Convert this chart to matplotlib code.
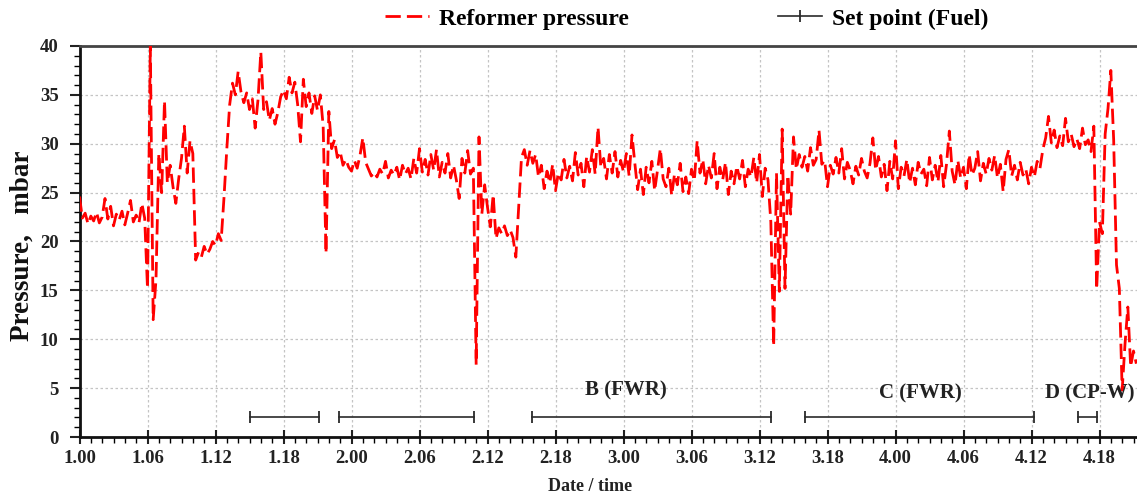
import numpy as np
import matplotlib
matplotlib.use("Agg")
import matplotlib.pyplot as plt
from matplotlib.ticker import MultipleLocator, FixedLocator

plt.rcParams['font.family'] = ['Liberation Serif', 'DejaVu Serif']
plt.rcParams['font.weight'] = 'bold'

# ---- data -------------------------------------------------------------
step_h = 0.25  # sampling interval of the pressure record, hours

pressure = [
    # 1.00 - 1.06
    24.6, 22.4, 22.9, 21.8, 22.6, 22.1, 23.0, 21.9, 22.5, 24.4, 22.3, 23.6,
    21.6, 22.8, 22.2, 23.1, 21.7, 22.9, 24.2, 22.0, 22.7, 21.9, 23.9, 22.4,
    # 1.06 - 1.12
    15.2, 40.0, 12.0, 16.1, 29.0, 25.0, 34.4, 26.0, 27.8, 25.6, 23.9, 26.4,
    28.5, 31.8, 27.0, 30.3, 29.0, 18.1, 18.9, 18.4, 19.5, 18.7, 19.2, 20.0,
    # 1.12 - 1.18
    19.6, 20.8, 20.1, 24.5, 29.5, 34.0, 36.2, 35.0, 37.4, 35.3, 34.2, 35.2,
    33.5, 34.6, 31.6, 34.5, 39.4, 33.5, 34.3, 32.4, 33.6, 32.0, 33.2, 34.8,
    # 1.18 - 2.00
    35.5, 34.6, 36.8, 35.2, 36.3, 34.0, 30.2, 36.6, 33.8, 35.2, 33.1, 34.9,
    33.4, 35.0, 31.8, 18.8, 33.3, 29.5, 30.4, 28.6, 29.2, 27.8, 28.4, 27.6,
    # 2.00 - 2.06
    27.2, 28.3, 27.5, 28.8, 30.6, 28.1, 27.4, 26.7, 27.1, 26.6, 27.4, 26.9,
    28.2, 26.5, 27.3, 26.8, 27.6, 26.3, 27.8, 26.9, 27.5, 26.4, 28.5, 27.0,
    # 2.06 - 2.12
    29.5, 27.1, 28.4, 26.8, 28.9, 27.3, 29.4, 26.6, 28.1, 27.0, 29.0, 26.5,
    27.8, 26.3, 24.4, 28.5, 27.0, 29.3, 26.9, 27.5, 7.4, 30.7, 22.8, 25.8,
    # 2.12 - 2.18
    23.5, 21.5, 24.8, 20.3, 21.4, 20.8, 21.6, 20.6, 21.2, 20.4, 18.4, 23.5,
    28.6, 29.4, 27.8, 29.3, 28.0, 28.9, 26.6, 27.8, 25.4, 27.2, 26.0, 27.9,
    # 2.18 - 3.00
    25.2, 27.0, 26.3, 28.4, 26.5, 27.7, 26.2, 29.1, 26.8, 28.0, 25.6, 28.7,
    27.1, 29.4, 26.9, 31.7, 27.6, 28.5, 26.4, 28.9, 27.0, 29.2, 26.6, 28.3,
    # 3.00 - 3.06
    27.1, 29.0, 26.7, 30.9, 28.0, 25.3, 27.4, 24.8, 27.6, 26.0, 28.2, 25.2,
    27.3, 29.5, 26.4, 25.6, 27.5, 24.7, 26.9, 25.8, 28.0, 25.1, 26.6, 24.9,
    # 3.06 - 3.12
    27.4, 26.2, 30.3, 27.0, 28.4, 25.9, 27.8, 26.5, 29.0, 25.4, 27.6, 26.3,
    28.1, 24.8, 27.2, 25.9, 27.7, 26.4, 28.3, 25.6, 27.4, 26.6, 28.6, 26.0,
    # 3.12 - 3.18
    28.9, 24.6, 27.5, 26.3, 22.0, 9.3, 27.0, 14.9, 31.5, 15.2, 26.8, 22.8,
    30.7, 27.4, 28.9, 27.6, 28.7, 27.2, 29.6, 27.8, 28.4, 31.4, 27.9, 28.3,
    # 3.18 - 4.00
    25.6, 27.8, 26.9, 28.6, 27.0, 29.5, 26.4, 28.1, 27.3, 25.9, 27.7, 26.8,
    28.5, 27.2, 26.5, 28.0, 30.6, 27.3, 28.7, 26.6, 27.9, 25.2, 28.2, 26.4,
    # 4.00 - 4.06
    30.3, 25.4, 27.6, 26.7, 28.4, 26.0, 27.5, 25.8, 28.1, 26.9, 27.4, 25.7,
    28.6, 26.3, 27.8, 26.1, 28.8, 25.6, 27.9, 31.3, 27.2, 25.8, 28.3, 26.5,
    # 4.06 - 4.12
    27.6, 25.4, 28.9, 26.8, 27.5, 29.2, 26.2, 28.0, 26.9, 28.5, 27.3, 28.8,
    26.5, 27.9, 25.1, 28.4, 29.4, 26.7, 27.8, 26.3, 28.1, 26.8, 27.4, 25.9,
    # 4.12 - 4.18
    27.6, 26.6, 28.2, 27.5, 29.4, 30.6, 32.8, 30.1, 31.4, 29.6, 30.8, 29.8,
    32.6, 30.2, 31.0, 29.7, 30.5, 29.5, 31.6, 29.9, 30.4, 29.2, 31.8, 15.1,
    # 4.18 - end
    22.0, 20.8, 31.0, 33.6, 37.5, 30.4, 17.6, 15.2, 4.8, 9.5, 13.3, 7.2,
    8.8, 7.5,
]

# set-point (fuel) periods, hours from 1.00
setpoint_start = [15.0, 22.9, 39.9, 64.0, 88.1]
setpoint_end = [21.1, 34.8, 61.0, 84.2, 89.8]
setpoint_level = 2.0

phase_labels = ["B (FWR)", "C (FWR)", "D (CP-W)"]
phase_label_x = [48.2, 74.2, 89.1]
phase_label_y = [4.8, 4.5, 4.5]

x_tick_hours = list(range(0, 91, 6))
x_tick_labels = [f"{h // 24 + 1}.{h % 24:02d}" for h in x_tick_hours]

# ---- figure -----------------------------------------------------------
W, H = 1137, 498
fig = plt.figure(figsize=(W / 100, H / 100), dpi=100)
ax_left, ax_right, ax_bottom, ax_top = 79.5, 1137, 437, 46
ax = fig.add_axes([ax_left / W, 1 - ax_bottom / H,
                   (ax_right - ax_left) / W, (ax_bottom - ax_top) / H])

hours = np.arange(len(pressure)) * step_h
line_p, = ax.plot(hours, pressure, color='#ff0000', lw=2.0,
                  linestyle=(0, (5.5, 2.2)), label='Reformer pressure', zorder=3)

line_s = None
for s, e in zip(setpoint_start, setpoint_end):
    line_s, = ax.plot([s, e], [setpoint_level, setpoint_level], color='#2a2a2a',
                      lw=1.2, marker='|', markersize=9, markeredgewidth=1.3,
                      label='Set point (Fuel)', zorder=3)

for txt, tx, ty in zip(phase_labels, phase_label_x, phase_label_y):
    ax.text(tx, ty, txt, ha='center', va='center', fontsize=15,
            fontweight='bold', color='#222222')

ax.set_xlim(0, (ax_right - ax_left) / (68 / 6))
ax.set_ylim(0, 40)

ax.xaxis.set_major_locator(FixedLocator(x_tick_hours))
ax.set_xticklabels(x_tick_labels)
ax.xaxis.set_minor_locator(MultipleLocator(1))
ax.yaxis.set_major_locator(MultipleLocator(5))
ax.yaxis.set_minor_locator(MultipleLocator(1))

ax.tick_params(axis='x', which='major', direction='inout', length=10, width=1.5,
               labelsize=13.5, pad=4, colors='#222222')
ax.tick_params(axis='x', which='minor', direction='out', length=4, width=1.0)
ax.tick_params(axis='y', which='major', direction='out', length=7, width=1.5,
               labelsize=13.5, pad=8, colors='#222222')
ax.tick_params(axis='y', which='minor', direction='out', length=4, width=1.0)
for lab in ax.get_xticklabels() + ax.get_yticklabels():
    lab.set_fontweight('bold')

ax.grid(True, which='major', color='#c4c4c4', linestyle=(0, (2, 2)), lw=0.9)
ax.set_axisbelow(True)

for side in ['left', 'bottom']:
    ax.spines[side].set_linewidth(2.0)
    ax.spines[side].set_color('#111111')
ax.spines['top'].set_linewidth(2.0)
ax.spines['top'].set_color('#444444')
ax.spines['right'].set_visible(False)

ax.set_xlabel('Date / time', fontsize=13, fontweight='bold', color='#222222')
ax.xaxis.set_label_coords((590 - ax_left) / (ax_right - ax_left),
                          (ax_bottom - 478) / (ax_bottom - ax_top))
ax.set_ylabel('Pressure,   mbar', fontsize=19.5, fontweight='bold', color='#111111')
ax.yaxis.set_label_coords((35 - ax_left) / (ax_right - ax_left), 0.49)

fig.legend([line_p, line_s], ['Reformer pressure', 'Set point (Fuel)'],
           loc='center left', bbox_to_anchor=(385 / W, 1 - 19 / H),
           ncol=2, frameon=False, handlelength=1.85,
           handletextpad=0.45, columnspacing=6.3, borderpad=0, borderaxespad=0,
           prop={'weight': 'bold', 'size': 17})

fig.savefig('out.png', dpi=100)
